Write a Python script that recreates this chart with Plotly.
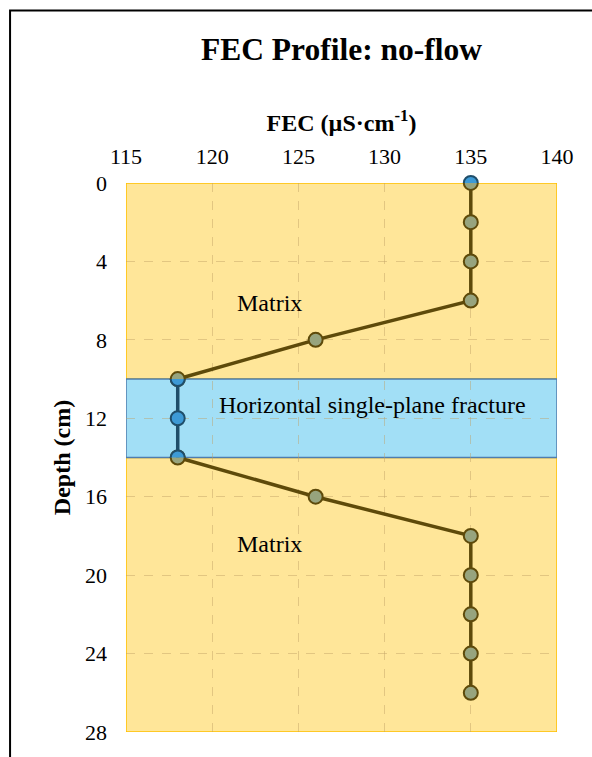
import plotly.graph_objects as go

# FEC readings along the borehole (depth in cm, FEC in µS·cm⁻¹)
depth_upper = [0, 2, 4, 6, 8, 10]
fec_upper = [135, 135, 135, 135, 126, 118]
depth_lower = [14, 16, 18, 20, 22, 24, 26]
fec_lower = [118, 126, 135, 135, 135, 135, 135]
depth_fracture = [10, 12, 14]
fec_fracture = [118, 118, 118]
depth_surface = [0]
fec_surface = [135]

x_ticks = [115, 120, 125, 130, 135, 140]
y_ticks = [0, 4, 8, 12, 16, 20, 24, 28]
fracture_top, fracture_bottom = 10, 14
depth_max = 28

FONT = "Liberation Serif"
BROWN = "#5E4A0A"
GREEN = "#97A47E"
TEAL = "#1F4E6A"
BLUE = "#3D9AD6"

# vertical layout (pixels) of the plotting area and a thin strip above it
PLOT_H = 551
STRIP_H = 10
main_top = PLOT_H / (PLOT_H + STRIP_H)
px_per_cm = PLOT_H / depth_max

fig = go.Figure()

# matrix profile (upper and lower parts)
for d, v in [(depth_upper, fec_upper), (depth_lower, fec_lower)]:
    fig.add_trace(go.Scatter(x=v, y=d, mode="lines+markers",
                             line=dict(color=BROWN, width=3.5),
                             marker=dict(size=14, color=GREEN, line=dict(color=BROWN, width=2)),
                             cliponaxis=True, showlegend=False))

# fracture profile, clipped to the fracture band
fig.add_trace(go.Scatter(x=fec_fracture, y=depth_fracture, mode="lines+markers",
                         line=dict(color=TEAL, width=3.5),
                         marker=dict(size=14, color=BLUE, line=dict(color=TEAL, width=2)),
                         cliponaxis=True, showlegend=False,
                         xaxis="x2", yaxis="y2"))

# surface reading, clipped to the strip above the axes
fig.add_trace(go.Scatter(x=fec_surface, y=depth_surface, mode="markers",
                         marker=dict(size=14, color=BLUE, line=dict(color=TEAL, width=2)),
                         cliponaxis=True, showlegend=False,
                         xaxis="x3", yaxis="y3"))

# matrix / fracture zones
for y0, y1 in [(0, fracture_top), (fracture_bottom, depth_max)]:
    fig.add_shape(type="rect", xref="x", yref="y", x0=x_ticks[0], x1=x_ticks[-1],
                  y0=y0, y1=y1, fillcolor="#FFE699", line=dict(color="#FFC000", width=1.5),
                  layer="below")
fig.add_shape(type="rect", xref="x", yref="y", x0=x_ticks[0], x1=x_ticks[-1],
              y0=fracture_top, y1=fracture_bottom, fillcolor="#A2DFF6",
              line=dict(color="#4F7DAE", width=1.5), layer="below")

# outer frame
fig.add_shape(type="rect", xref="paper", yref="paper", x0=-0.269, x1=1.12,
              y0=-0.1, y1=(PLOT_H + 173) / (PLOT_H + STRIP_H),
              line=dict(color="black", width=2),
              fillcolor="rgba(0,0,0,0)", layer="above")

ann_font = dict(family=FONT, size=24, color="black")
fig.add_annotation(x=123.3, y=6.1, text="Matrix", showarrow=False, font=ann_font)
fig.add_annotation(x=123.3, y=18.4, text="Matrix", showarrow=False, font=ann_font)
fig.add_annotation(x=129.3, y=11.3, text="Horizontal single-plane fracture",
                   showarrow=False, font=ann_font)

grid = "rgba(190,160,100,0.45)"
fig.update_layout(
    width=592, height=757,
    margin=dict(l=126, r=35, t=183 - STRIP_H, b=23),
    paper_bgcolor="white", plot_bgcolor="rgba(0,0,0,0)",
    font=dict(family=FONT, size=22, color="black"),
    title=dict(text="<b>FEC Profile: no-flow</b>", x=0.5, xref="paper",
               xanchor="center", y=1 - 49 / 757, yanchor="middle",
               font=dict(family=FONT, size=31.5)),
    xaxis=dict(range=[x_ticks[0], x_ticks[-1]], side="top", tickvals=x_ticks,
               showgrid=True, gridcolor=grid, griddash="dash", gridwidth=1,
               zeroline=False, showline=False, ticks="", ticklabelstandoff=14,
               title=dict(text="<b>FEC (µS·cm<sup>-1</sup>)</b>", standoff=5,
                          font=dict(family=FONT, size=24))),
    yaxis=dict(range=[depth_max, 0], tickvals=y_ticks, showgrid=True,
               domain=[0, main_top],
               gridcolor=grid, griddash="dash", gridwidth=1, zeroline=False,
               showline=False, ticks="", ticklabelstandoff=18,
               title=dict(text="<b>Depth (cm)</b>", standoff=7,
                          font=dict(family=FONT, size=24))),
    xaxis2=dict(range=[x_ticks[0], x_ticks[-1]], domain=[0, 1], anchor="y2",
                visible=False),
    yaxis2=dict(range=[fracture_bottom, fracture_top], visible=False, anchor="x2",
                domain=[main_top * (depth_max - fracture_bottom) / depth_max,
                        main_top * (depth_max - fracture_top) / depth_max]),
    xaxis3=dict(range=[x_ticks[0], x_ticks[-1]], domain=[0, 1], anchor="y3",
                visible=False),
    yaxis3=dict(range=[0, -STRIP_H / px_per_cm], visible=False, anchor="x3",
                domain=[main_top, 1]),
)

fig.write_html("out.html")
